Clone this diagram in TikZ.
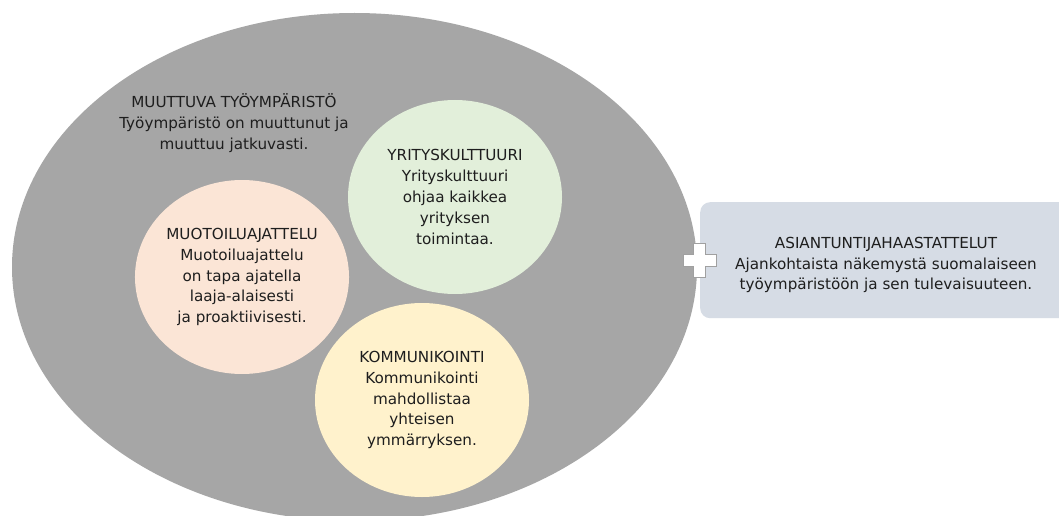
\documentclass[tikz,border=0pt]{standalone}
\usepackage{fontspec}
\setmainfont{DejaVu Sans}
\usetikzlibrary{shapes.geometric}

\definecolor{envgray}{HTML}{A6A6A6}
\definecolor{culturegreen}{HTML}{E2EFDA}
\definecolor{designpink}{HTML}{FBE5D6}
\definecolor{commyellow}{HTML}{FFF2CC}
\definecolor{interviewblue}{HTML}{D6DCE5}
\definecolor{inktext}{HTML}{1E1E1E}
\definecolor{plusedge}{HTML}{A0A0A0}

\tikzset{
  bodytext/.style={text=inktext, align=center,
    font=\fontsize{15.2}{20.8}\selectfont},
  bubble/.style={ellipse, draw=none, minimum width=214pt, minimum height=194pt,
    inner sep=0pt, bodytext},
}

\begin{document}
\begin{tikzpicture}[x=1pt,y=-1pt]
  \useasboundingbox (0,0) rectangle (1059,516);
  \fill[white] (0,0) rectangle (1059,516);

  % changing work environment: the large grey ellipse
  \node[ellipse, fill=envgray, minimum width=685pt, minimum height=508pt,
        inner sep=0pt] (env) at (354.5,267) {};
  \node[bodytext] (envtext) at (234,123)
    {MUUTTUVA TYÖYMPÄRISTÖ\\Työympäristö on muuttunut ja\\muuttuu jatkuvasti.};

  % the three themes inside it
  \node[bubble, fill=culturegreen] (culture) at (455,197)
    {YRITYSKULTTUURI\\Yrityskulttuuri\\ohjaa kaikkea\\yrityksen\\toimintaa.};
  \node[bubble, fill=designpink] (design) at (242,277)
    {MUOTOILUAJATTELU\\Muotoiluajattelu\\on tapa ajatella\\laaja-alaisesti\\ja proaktiivisesti.};
  \node[bubble, fill=commyellow] (comm) at (422,400)
    {KOMMUNIKOINTI\\Kommunikointi\\mahdollistaa\\yhteisen\\ymmärryksen.};

  % expert interviews box
  \node[rectangle, rounded corners=10pt, fill=interviewblue, minimum width=380pt,
        minimum height=116pt, inner sep=0pt, anchor=north west] (interviews) at (700,202) {};
  \node[bodytext] (interviewtext) at (886,265)
    {ASIANTUNTIJAHAASTATTELUT\\Ajankohtaista näkemystä suomalaiseen\\työympäristöön ja sen tulevaisuuteen.};

  % plus sign joining the two parts
  \coordinate (plus) at (699.5,260);
  \draw[plusedge, fill=white, line width=0.8pt, shift={(plus)}]
    (-6,-17) -- (6,-17) -- (6,-6) -- (16.5,-6) -- (16.5,6) -- (6,6) -- (6,17)
    -- (-6,17) -- (-6,6) -- (-16.5,6) -- (-16.5,-6) -- (-6,-6) -- cycle;
\end{tikzpicture}
\end{document}
